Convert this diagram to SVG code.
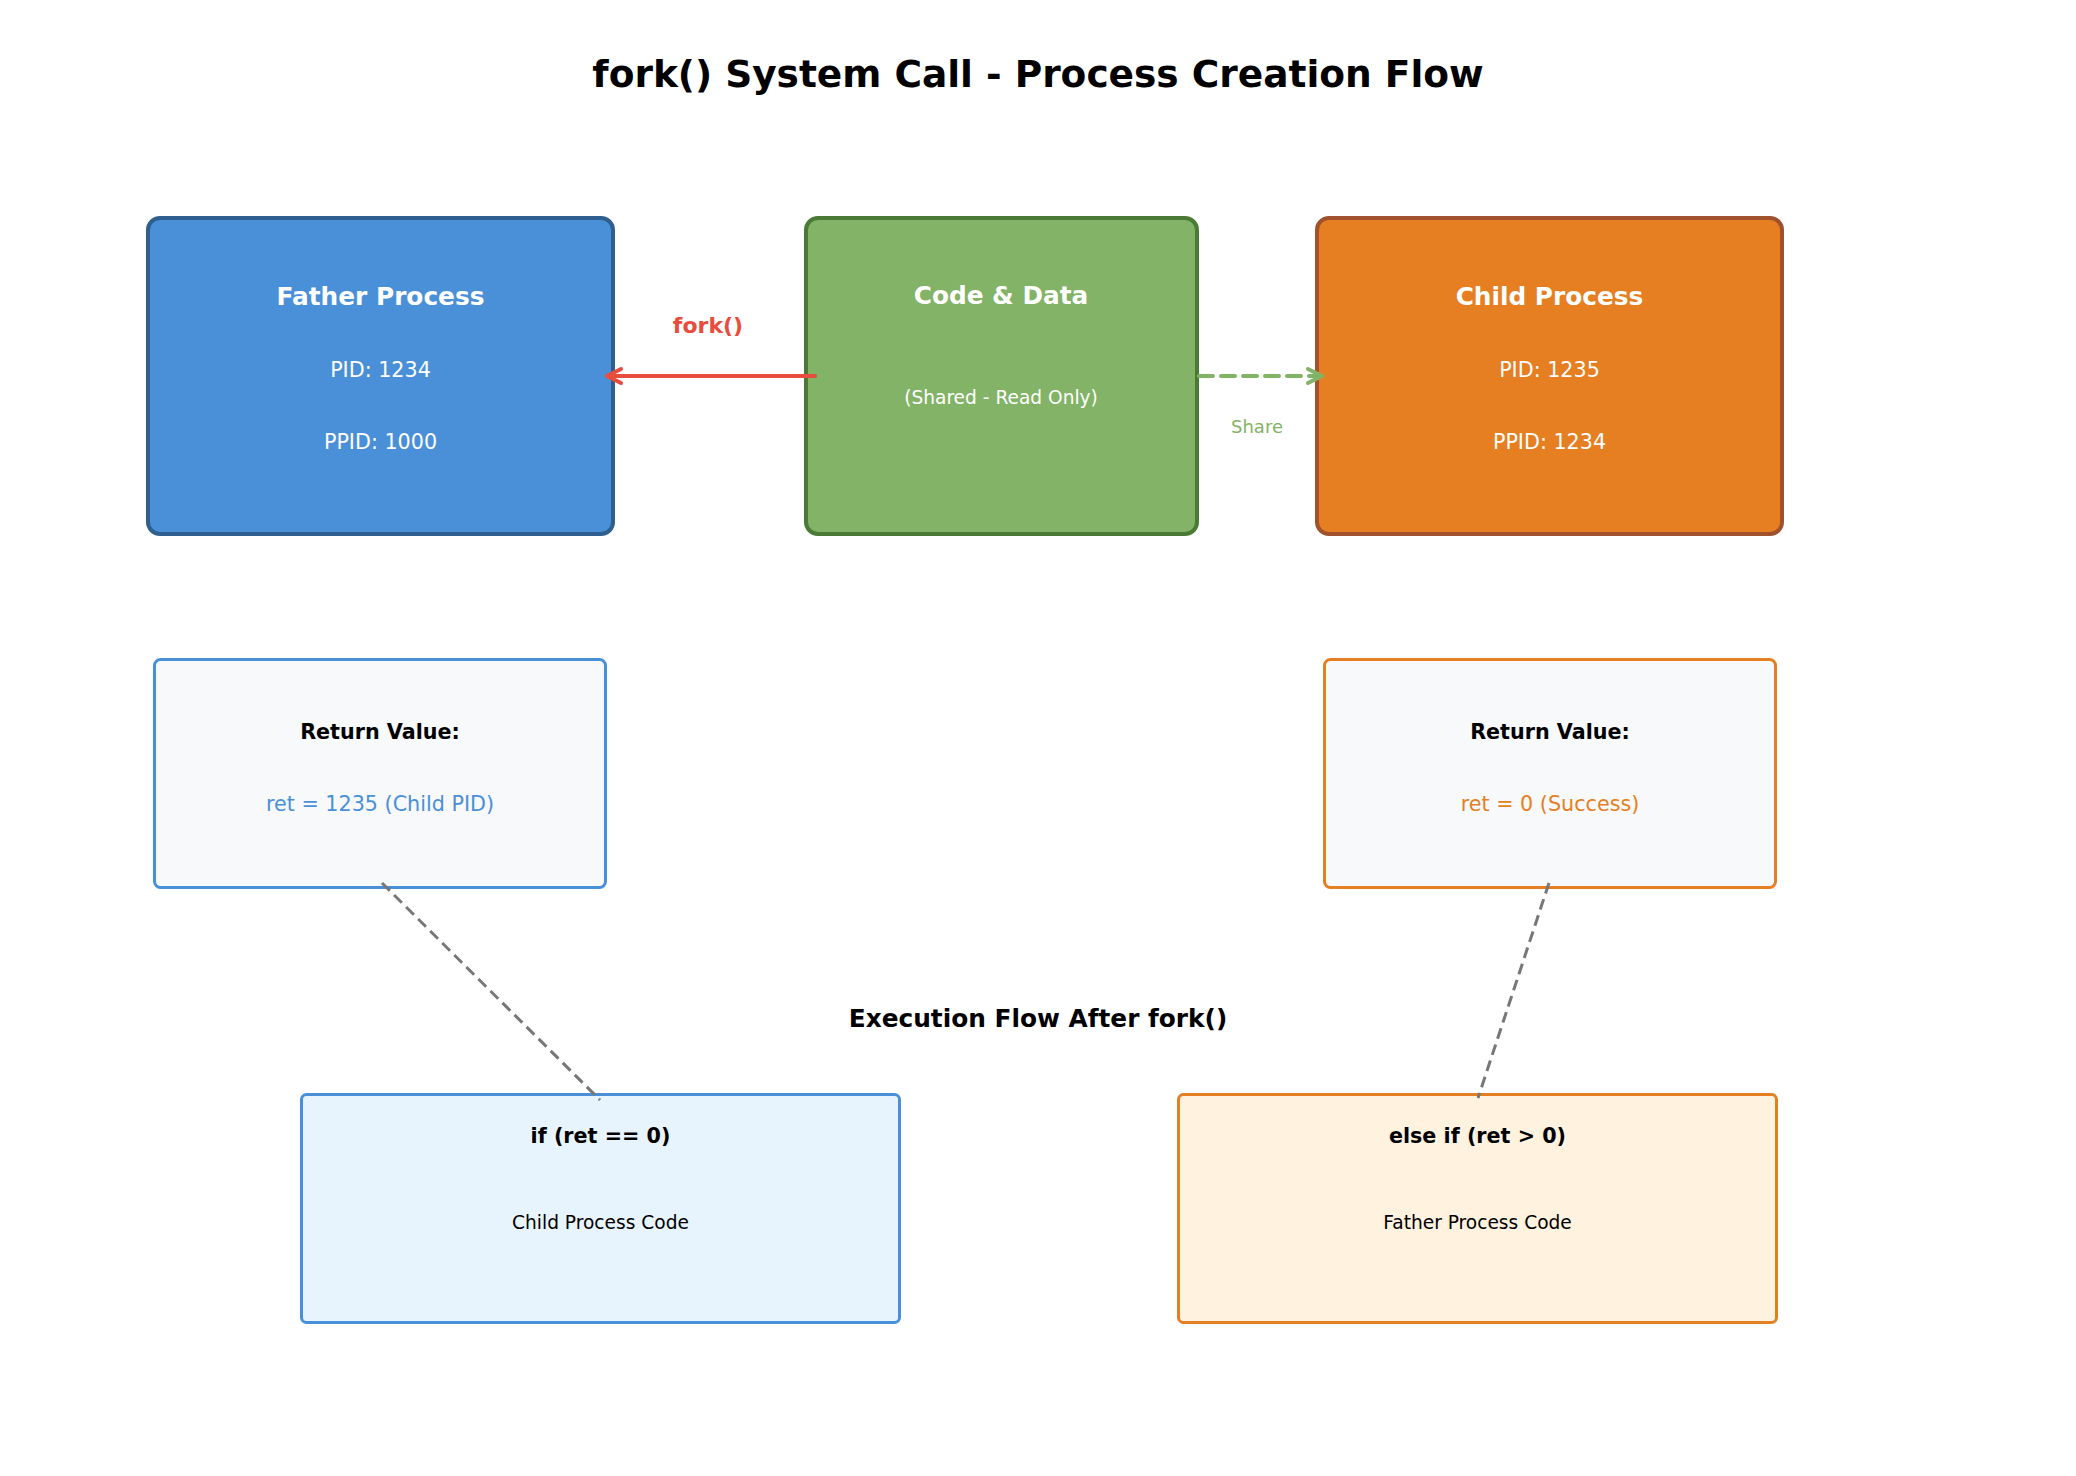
<svg xmlns="http://www.w3.org/2000/svg" width="2076" height="1476" viewBox="0 0 2076 1476">
<style>
text{font-family:"DejaVu Sans","Liberation Sans",sans-serif;text-anchor:middle}
.b{font-weight:bold}
.w{fill:#ffffff}
.k{fill:#000000}
.ret{fill:#F8F9FA;stroke-width:3}
.bot{stroke-width:3}
</style>
<defs>
<marker id="ar" markerUnits="userSpaceOnUse" markerWidth="30" markerHeight="30" viewBox="-20 -15 30 30" refX="0" refY="0" orient="auto">
<path d="M-14,-7 L0,0 L-14,7" fill="none" stroke="#E74C3C" stroke-width="4" stroke-linecap="round" stroke-linejoin="round"/>
</marker>
<marker id="ag" markerUnits="userSpaceOnUse" markerWidth="30" markerHeight="30" viewBox="-20 -15 30 30" refX="0" refY="0" orient="auto">
<path d="M-14,-7 L0,0 L-14,7" fill="none" stroke="#82B366" stroke-width="4" stroke-linecap="round" stroke-linejoin="round"/>
</marker>
</defs>
<rect width="2076" height="1476" fill="#ffffff"/>
<text x="1038" y="87" class="b k" font-size="37.5">fork() System Call - Process Creation Flow</text>

<g id="father">
<rect x="148" y="218" width="465" height="316" rx="12" fill="#4A90D9" stroke="#2E5F8F" stroke-width="4"/>
<text x="380.5" y="305" class="b w" font-size="24.8">Father Process</text>
<text x="380.5" y="377" class="w" font-size="20.7">PID: 1234</text>
<text x="380.5" y="449" class="w" font-size="20.7">PPID: 1000</text>
</g>
<g id="code">
<rect x="806" y="218" width="391" height="316" rx="12" fill="#82B366" stroke="#4A7A35" stroke-width="4"/>
<text x="1001" y="304" class="b w" font-size="24.8">Code &amp; Data</text>
<text x="1001" y="404" class="w" font-size="18.6">(Shared - Read Only)</text>
</g>
<g id="child">
<rect x="1317" y="218" width="465" height="316" rx="12" fill="#E67E22" stroke="#A0522D" stroke-width="4"/>
<text x="1549.5" y="305" class="b w" font-size="24.8">Child Process</text>
<text x="1549.5" y="377" class="w" font-size="20.7">PID: 1235</text>
<text x="1549.5" y="449" class="w" font-size="20.7">PPID: 1234</text>
</g>
<g id="ret_father">
<rect x="154.5" y="659.5" width="451" height="228" rx="6" class="ret" stroke="#4A90D9"/>
<text x="380" y="739" class="b k" font-size="20.7">Return Value:</text>
<text x="380" y="811" fill="#4A90D9" font-size="20.7">ret = 1235 (Child PID)</text>
</g>
<g id="ret_child">
<rect x="1324.5" y="659.5" width="451" height="228" rx="6" class="ret" stroke="#E67E22"/>
<text x="1550" y="739" class="b k" font-size="20.7">Return Value:</text>
<text x="1550" y="811" fill="#E67E22" font-size="20.7">ret = 0 (Success)</text>
</g>
<text x="1038" y="1027" class="b k" font-size="24.8">Execution Flow After fork()</text>
<g id="child_code">
<rect x="301.5" y="1094.5" width="598" height="228" rx="5" class="bot" fill="#E8F4FD" stroke="#4A90D9"/>
<text x="600.5" y="1143" class="b k" font-size="20.7">if (ret == 0)</text>
<text x="600.5" y="1229" class="k" font-size="18.6">Child Process Code</text>
</g>
<g id="father_code">
<rect x="1178.5" y="1094.5" width="598" height="228" rx="5" class="bot" fill="#FFF3E0" stroke="#E67E22"/>
<text x="1477.5" y="1143" class="b k" font-size="20.7">else if (ret &gt; 0)</text>
<text x="1477.5" y="1229" class="k" font-size="18.6">Father Process Code</text>
</g>

<g id="connectors">
<line x1="815" y1="376" x2="607" y2="376" stroke="#E74C3C" stroke-width="4" stroke-linecap="round" marker-end="url(#ar)"/>
<text x="708" y="333" class="b" fill="#E74C3C" font-size="22">fork()</text>
<line x1="1199" y1="376" x2="1322" y2="376" stroke="#82B366" stroke-width="4" stroke-dasharray="14 8" stroke-linecap="round" marker-end="url(#ag)"/>
<text x="1257" y="433" fill="#82B366" font-size="18">Share</text>
<line x1="382" y1="883" x2="600" y2="1100" stroke="#777777" stroke-width="3" stroke-dasharray="11 6"/>
<line x1="1549" y1="883" x2="1478" y2="1098" stroke="#777777" stroke-width="3" stroke-dasharray="11 6"/>
</g>
</svg>
